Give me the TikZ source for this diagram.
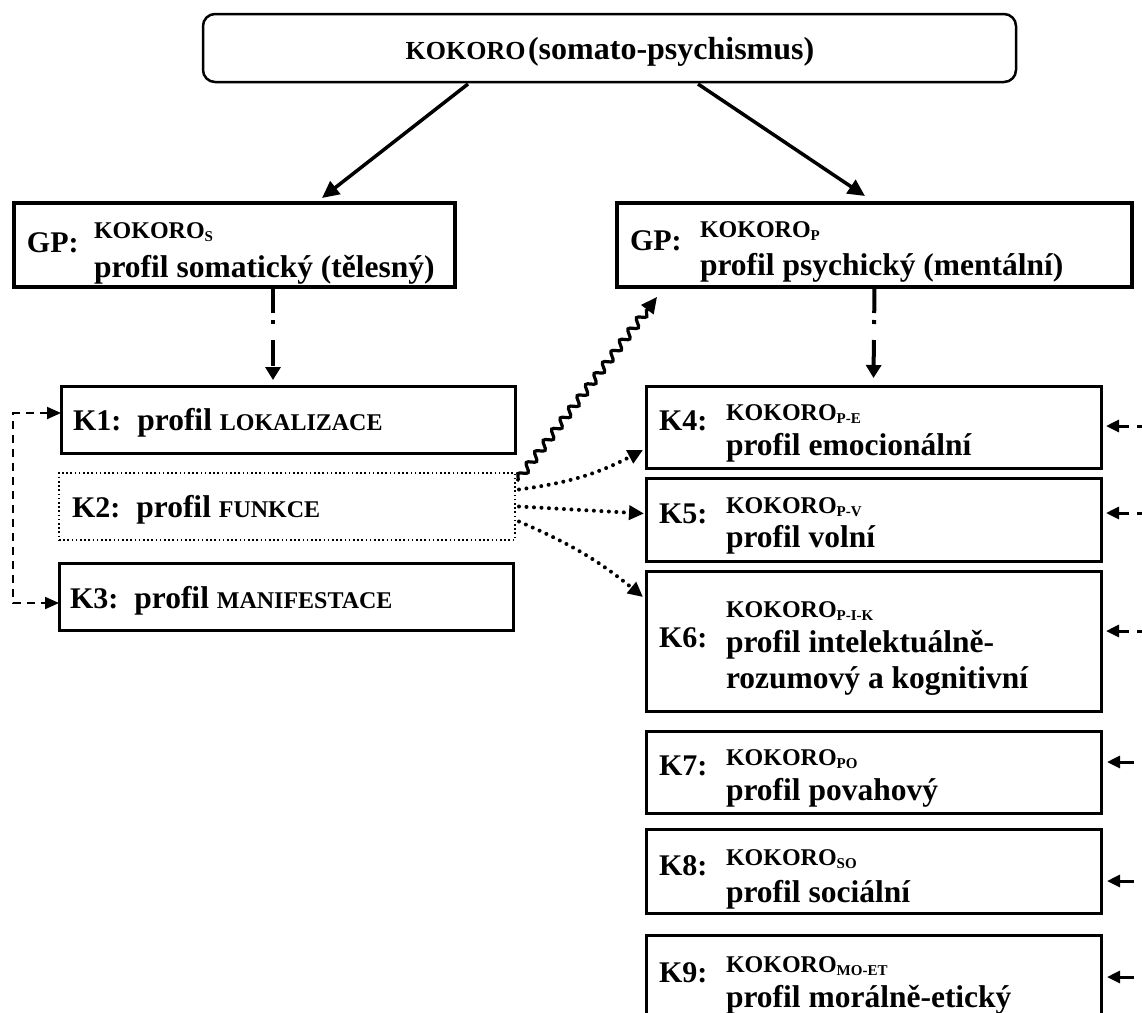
\documentclass[tikz,border=0pt]{standalone}
\usepackage{fontspec}
\setmainfont{Liberation Serif}
\usetikzlibrary{arrows.meta,decorations.pathmorphing,calc}
\newcommand{\szLab}{\fontsize{30}{34}\selectfont}
\newcommand{\szMain}{\fontsize{31.5}{36}\selectfont}
\newcommand{\szKo}{\fontsize{24}{28}\selectfont}
\newcommand{\szSub}{\fontsize{15}{18}\selectfont}
\newcommand{\szCap}{\fontsize{24}{28}\selectfont}
\newcommand{\kokoro}[1]{{\szKo KOKORO}\raisebox{-3pt}{\szSub #1}}
\begin{document}
\begin{tikzpicture}[x=1pt,y=-1pt,
  every node/.style={inner sep=0pt, outer sep=0pt, font=\bfseries},
  thickbox/.style={draw, line width=4pt, anchor=north west},
  kbox/.style={draw, line width=3pt, anchor=north west},
  dotbox/.style={draw, line width=1.6pt, dash pattern=on 1.6pt off 2.6pt, anchor=north west},
  txt/.style={anchor=base west},
  toparrow/.style={line width=3.5pt, -{Triangle[length=17pt,width=16pt]}},
  dashdot/.style={line width=4pt, dash pattern=on 26pt off 7pt on 4pt off 16pt, -{Triangle[length=13pt,width=15pt]}},
  wavy/.style={line width=3.2pt, decorate, decoration={snake, amplitude=3.8pt, segment length=14pt, pre length=2pt, post length=14pt}, -{Triangle[length=16pt,width=15pt]}},
  dotarrow/.style={line width=4pt, line cap=round, dash pattern=on 0pt off 7.5pt, -{Triangle[length=15pt,width=14pt]}},
  bracket/.style={line width=2pt, dash pattern=on 8pt off 6pt, {Triangle[length=14pt,width=12pt]}-{Triangle[length=14pt,width=12pt]}},
  rdash/.style={line width=3pt, dash pattern=on 11pt off 8pt, {Triangle[length=13pt,width=12pt]}-},
  rsolid/.style={line width=3pt, {Triangle[length=13pt,width=12pt]}-}
]
\useasboundingbox (0,0) rectangle (1142,1012);

% top box
\node[draw, line width=2.5pt, rounded corners=12pt, minimum width=813pt, minimum height=68pt, anchor=north west] (top) at (203,14) {};
\node[anchor=base] (toptxt) at (610,59) {{\fontsize{26}{30}\selectfont KOKORO} {\fontsize{32}{36}\selectfont (somato-psychismus)}};

% GP boxes
\node[thickbox, minimum width=441pt, minimum height=84pt] (gpS) at (14,203) {};
\node[txt] (gpSlab) at (27,252) {\szLab GP:};
\node[txt] (gpSko) at (94,238) {\kokoro{S}};
\node[txt] (gpSpr) at (94,277) {\szMain profil somatický (tělesný)};

\node[thickbox, minimum width=515pt, minimum height=84pt] (gpP) at (617,203) {};
\node[txt] (gpPlab) at (630,250) {\szLab GP:};
\node[txt] (gpPko) at (700,237) {\kokoro{P}};
\node[txt] (gpPpr) at (700,275) {\szMain profil psychický (mentální)};

% K1-K3
\node[kbox, minimum width=454pt, minimum height=67pt] (K1) at (61,386) {};
\node[txt] (K1t) at (73,430) {\szLab K1:\hspace{16pt}\szMain profil {\szCap LOKALIZACE}};
\node[dotbox, minimum width=456pt, minimum height=67pt] (K2) at (59,473) {};
\node[txt] (K2t) at (72,517) {\szLab K2:\hspace{16pt}\szMain profil {\szCap FUNKCE}};
\node[kbox, minimum width=454pt, minimum height=67pt] (K3) at (59,563) {};
\node[txt] (K3t) at (70,608) {\szLab K3:\hspace{16pt}\szMain profil {\szCap MANIFESTACE}};

% K4-K9
\node[kbox, minimum width=455pt, minimum height=82pt] (K4) at (646,386) {};
\node[txt] (K4l) at (659,430) {\szLab K4:};
\node[txt] (K4k) at (726,420) {\kokoro{P-E}};
\node[txt] (K4p) at (726,455) {\szMain profil emocionální};

\node[kbox, minimum width=455pt, minimum height=83pt] (K5) at (646,478) {};
\node[txt] (K5l) at (659,523) {\szLab K5:};
\node[txt] (K5k) at (726,513) {\kokoro{P-V}};
\node[txt] (K5p) at (726,547) {\szMain profil volní};

\node[kbox, minimum width=455pt, minimum height=140pt] (K6) at (646,571) {};
\node[txt] (K6l) at (659,647) {\szLab K6:};
\node[txt] (K6k) at (726,617) {\kokoro{P-I-K}};
\node[txt] (K6p) at (726,652) {\szMain profil intelektuálně-};
\node[txt] (K6q) at (726,688) {\szMain rozumový a kognitivní};

\node[kbox, minimum width=455pt, minimum height=82pt] (K7) at (646,731) {};
\node[txt] (K7l) at (659,775) {\szLab K7:};
\node[txt] (K7k) at (726,765) {\kokoro{PO}};
\node[txt] (K7p) at (726,800) {\szMain profil povahový};

\node[kbox, minimum width=455pt, minimum height=84pt] (K8) at (646,829) {};
\node[txt] (K8l) at (659,875) {\szLab K8:};
\node[txt] (K8k) at (726,865) {\kokoro{SO}};
\node[txt] (K8p) at (726,902) {\szMain profil sociální};

\node[kbox, minimum width=455pt, minimum height=100pt] (K9) at (646,935) {};
\node[txt] (K9l) at (659,982) {\szLab K9:};
\node[txt] (K9k) at (726,972) {\kokoro{MO-ET}};
\node[txt] (K9p) at (726,1007) {\szMain profil morálně-etický};

% top arrows
\draw[toparrow] ($(top.south west)+(265,2)$) -- ($(gpS.north west)+(308,-5)$);
\draw[toparrow] ($(top.south west)+(495,2)$) -- ($(gpP.north west)+(248,-7)$);

% dash-dot arrows
\coordinate (ddS) at (273,0);
\draw[dashdot] (gpS.south -| ddS) -- ($(K1.north -| ddS)+(0,-6)$);
\draw[dashdot] (gpP.south) -- ($(K4.north)+(0,-8)$);

% wavy arrow
\draw[wavy] ($(K2.north east)+(2,8)$) -- ($(gpP.south west)+(40,10)$);

% dotted arrows
\draw[dotarrow] ($(K2.east)+(4,-17)$) to[bend right=10] ($(K4.west)+(-3,23)$);
\draw[dotarrow] ($(K2.east)+(4,0)$) -- ($(K5.west)+(-2,-6)$);
\draw[dotarrow] ($(K2.east)+(4,15)$) to[bend left=8] ($(K6.west)+(-3,-44)$);

% left bracket
\coordinate (bt) at (13,413);
\coordinate (bb) at (13,603);
\draw[bracket] (K1.west |- bt) -- (bt) -- (bb) -- (K3.west |- bb);

% right arrows
\coordinate (r4) at (1165,426);
\coordinate (r5) at (1165,513);
\coordinate (r6) at (1165,631);
\coordinate (r7) at (1134,762);
\coordinate (r8) at (1134,881);
\coordinate (r9) at (1134,977);
\draw[rdash] ($(K4.east |- r4)+(5,0)$) -- (r4);
\draw[rdash] ($(K5.east |- r5)+(5,0)$) -- (r5);
\draw[rdash] ($(K6.east |- r6)+(5,0)$) -- (r6);
\draw[rsolid] ($(K7.east |- r7)+(6,0)$) -- (r7);
\draw[rsolid] ($(K8.east |- r8)+(6,0)$) -- (r8);
\draw[rsolid] ($(K9.east |- r9)+(6,0)$) -- (r9);
\end{tikzpicture}
\end{document}
